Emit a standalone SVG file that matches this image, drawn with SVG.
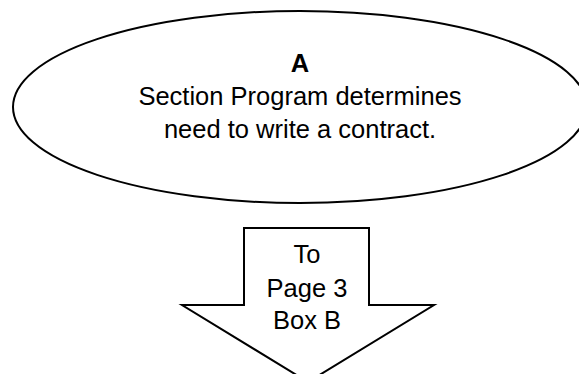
<svg xmlns="http://www.w3.org/2000/svg" width="579" height="374" viewBox="0 0 579 374">
<style>
.shape{fill:#fff;stroke:#000;stroke-width:2}
.t{font-family:"Liberation Sans",Arial,sans-serif;font-size:25.5px;fill:#000;text-anchor:middle}
.b{font-weight:bold}
</style>
<rect width="579" height="374" fill="#fff"/>
<g id="nodeA">
<ellipse class="shape" cx="300" cy="107" rx="287" ry="96"/>
<text class="t b" x="300" y="72">A</text>
<text class="t" x="300" y="105">Section Program determines</text>
<text class="t" x="300" y="138">need to write a contract.</text>
</g>
<g id="connectors">
<g id="toPage3">
<polygon class="shape" points="244,228 369,228 369,305 434,305 308,382 182,305 244,305"/>
<text class="t" x="307" y="263">To</text>
<text class="t" x="307" y="297">Page 3</text>
<text class="t" x="307" y="329">Box B</text>
</g>
</g>
</svg>
